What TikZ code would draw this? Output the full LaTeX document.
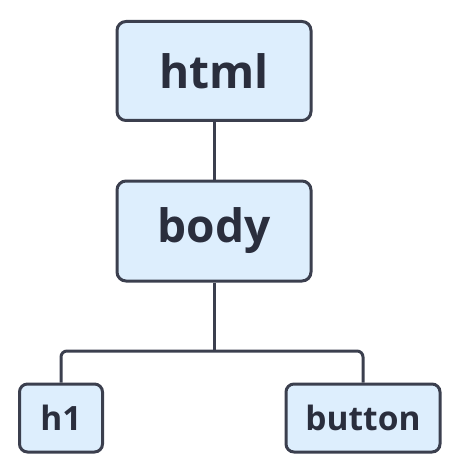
\documentclass[tikz,border=0pt]{standalone}
\usepackage{fontspec}
\setmainfont{Open Sans}
\usetikzlibrary{positioning}
\definecolor{boxfill}{HTML}{DDEEFD}
\definecolor{boxline}{HTML}{3B3F4E}
\definecolor{boxtext}{HTML}{2A2E3D}
\begin{document}
\begin{tikzpicture}[x=1pt,y=-1pt,
    tag/.style={draw=boxline,fill=boxfill,line width=3pt,rounded corners=9pt,
      text=boxtext,font=\fontsize{46}{46}\selectfont\bfseries,inner sep=0pt},
    small/.style={tag,rounded corners=8pt,font=\fontsize{33.5}{33.5}\selectfont\bfseries},
    link/.style={draw=boxline,line width=3pt,rounded corners=6pt}]
  \useasboundingbox (0,0) rectangle (462,465);
  \node[tag,minimum width=194pt,minimum height=99pt] (html) at (214,71) {html};
  \node[tag,minimum width=194pt,minimum height=100pt] (body) at (214,231) {body};
  \node[small,minimum width=83pt,minimum height=68pt] (h1) at (61,418) {h1};
  \node[small,minimum width=154pt,minimum height=68pt] (button) at (363,418) {button};
  \coordinate (split) at (214,351);
  \draw[link] (html) -- (body);
  \draw[link] (body) -- (split);
  \draw[link] (h1.north) |- (split) -| (button.north);
\end{tikzpicture}
\end{document}
